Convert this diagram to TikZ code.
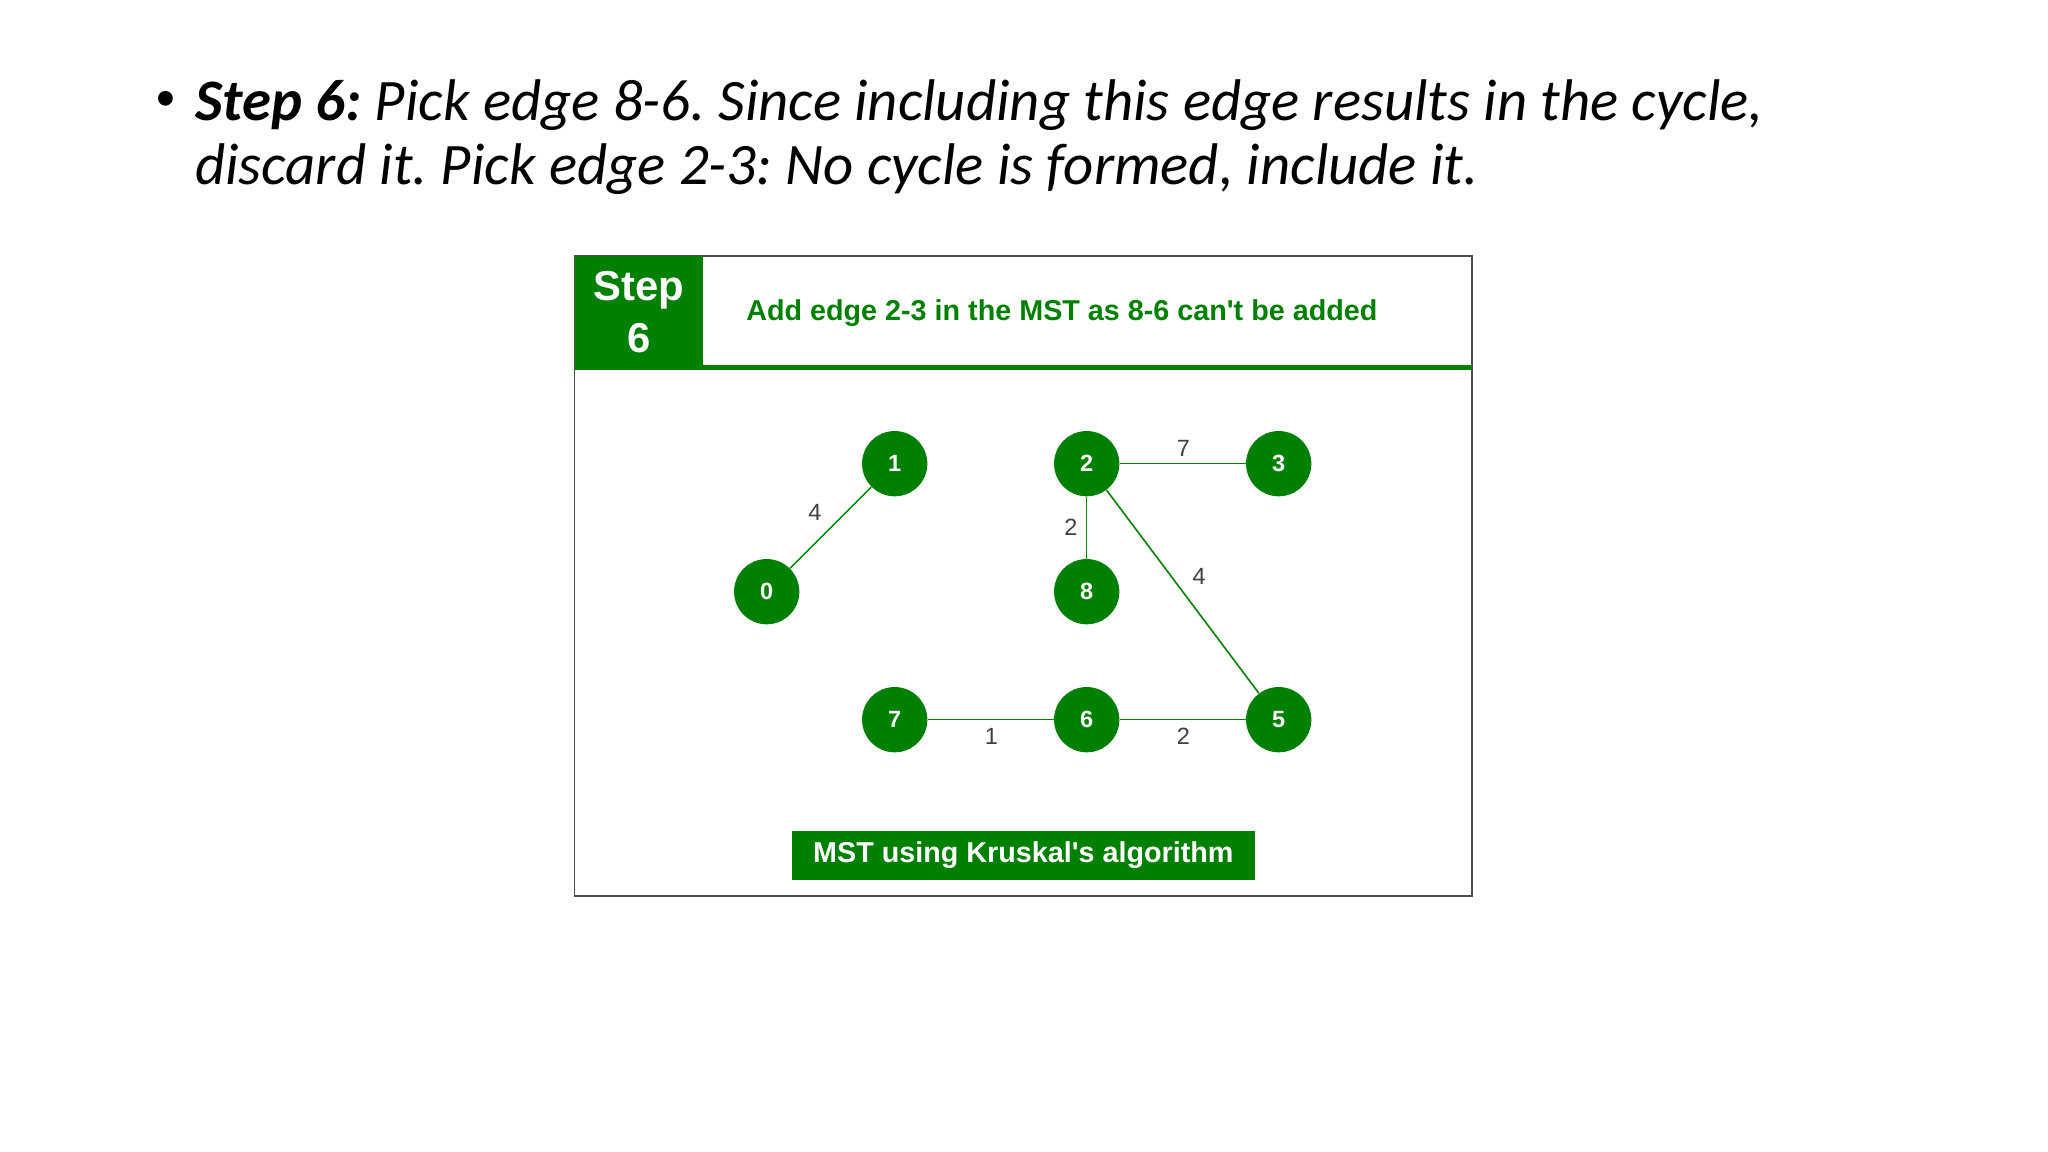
\documentclass[tikz,border=0pt]{standalone}
\usepackage{fontspec}
\setmainfont{Carlito}
\newfontfamily\arial{Liberation Sans}
\definecolor{gfg}{RGB}{0,128,0}
\frenchspacing
\begin{document}
\begin{tikzpicture}[x=0.5pt,y=-0.5pt,
  vtx/.style={circle,fill=gfg,minimum size=25pt,inner sep=0pt,text=white,font=\arial\bfseries\fontsize{9}{10}\selectfont},
  edge/.style={gfg,line width=0.6pt},
  btext/.style={anchor=base west,font=\itshape\fontsize{22.5}{26}\selectfont,inner sep=0},
  wlab/.style={text=black!75,font=\arial\fontsize{9}{10}\selectfont,inner sep=1pt}]
\useasboundingbox (0,0) rectangle (1568,882);
\node[font=\fontsize{16}{20}\selectfont,inner sep=0] (b) at (127,77) {\textbullet};
\node[btext] (t1) at (149,92) {\textbf{Step 6:} Pick edge 8-6. Since including this edge results in the cycle,};
\node[btext] (t2) at (149,141) {discard it. Pick edge 2-3: No cycle is formed, include it.};
\draw[black!70,line width=0.6pt] (440,196) rectangle (1127,686);
\fill[gfg] (440,196) rectangle (538,281);
\fill[gfg] (440,279.5) rectangle (1127,283);
\node[text=white,font=\arial\bfseries\fontsize{16}{20}\selectfont,align=center] (st) at (489,239) {Step\\6};
\node[text=gfg,font=\arial\bfseries\fontsize{11}{13}\selectfont] (hd) at (813,240) {Add edge 2-3 in the MST as 8-6 can't be added};
\node[vtx] (n1) at (685,355) {1};
\node[vtx] (n2) at (832,355) {2};
\node[vtx] (n3) at (979,355) {3};
\node[vtx] (n0) at (587,453) {0};
\node[vtx] (n8) at (832,453) {8};
\node[vtx] (n7) at (685,551) {7};
\node[vtx] (n6) at (832,551) {6};
\node[vtx] (n5) at (979,551) {5};
\draw[edge] (n0) -- (n1);
\draw[edge] (n2) -- (n3);
\draw[edge] (n2) -- (n8);
\draw[edge] (n2) -- (n5);
\draw[edge] (n7) -- (n6);
\draw[edge] (n6) -- (n5);
\node[wlab] (l1) at (624,392) {4};
\node[wlab] (l2) at (906,343) {7};
\node[wlab] (l3) at (820,404) {2};
\node[wlab] (l4) at (918,441) {4};
\node[wlab] (l5) at (759,564) {1};
\node[wlab] (l6) at (906,564) {2};
\node[fill=gfg,text=white,minimum width=177.5pt,minimum height=18.5pt,inner sep=0,font=\arial\bfseries\fontsize{11}{13}\selectfont] (ft) at (783.5,655) {MST using Kruskal's algorithm};
\end{tikzpicture}
\end{document}
